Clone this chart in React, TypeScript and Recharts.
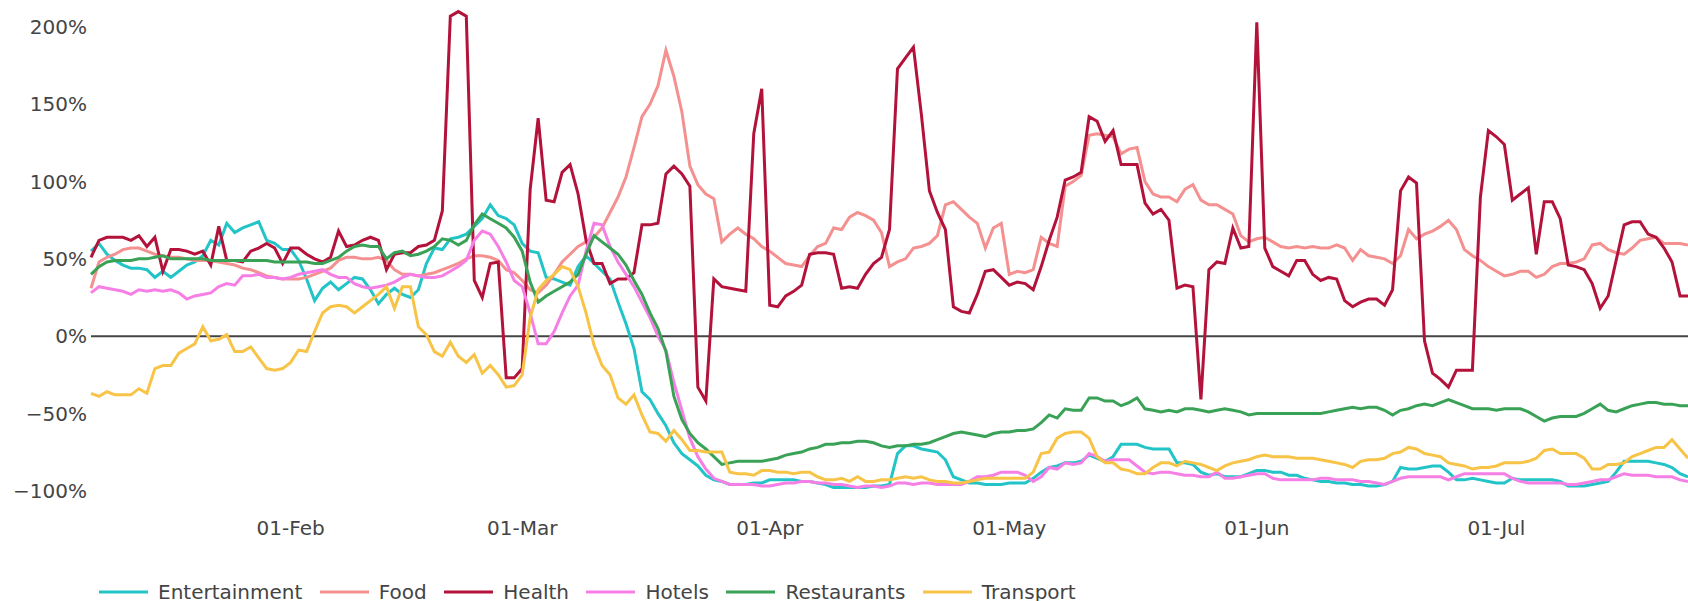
import React from 'react';
import { LineChart, Line, XAxis, YAxis, ReferenceLine, Legend } from 'recharts';

// Daily series, day 0 = 07-Jan-2020 ... day 200 = 25-Jul-2020 (percent change)
const entertainment = [
  55, 60, 53, 49, 46, 44, 44, 43, 38, 42,
  38, 42, 46, 48, 52, 62, 59, 73, 67, 70,
  72, 74, 62, 60, 56, 56, 49, 37, 23, 31,
  35, 30, 34, 38, 37, 30, 21, 27, 31, 27,
  25, 30, 47, 57, 56, 63, 64, 66, 71, 76,
  85, 78, 76, 72, 60, 55, 54, 38, 37, 35,
  33, 45, 52, 47, 42, 37, 22, 8, -8, -36,
  -41, -50, -58, -69, -76, -80, -84, -90, -93, -94,
  -96, -96, -96, -95, -95, -93, -93, -93, -93, -94,
  -94, -95, -96, -98, -98, -98, -98, -98, -97, -97,
  -96, -76, -71, -71, -73, -74, -75, -80, -91, -93,
  -95, -95, -96, -96, -96, -95, -95, -95, -92, -88,
  -85, -84, -82, -82, -81, -77, -79, -81, -78, -70,
  -70, -70, -72, -73, -73, -73, -82, -82, -83, -88,
  -90, -89, -91, -91, -91, -89, -87, -87, -88, -88,
  -90, -90, -92, -93, -94, -94, -95, -95, -96, -96,
  -97, -97, -96, -94, -85, -86, -86, -85, -84, -84,
  -88, -93, -93, -92, -93, -94, -95, -95, -92, -93,
  -93, -93, -93, -93, -94, -97, -97, -97, -96, -95,
  -94, -88, -81, -81, -81, -81, -82, -83, -85, -89, -91,
];

const food = [
  31, 48, 51, 53, 56, 57, 57, 55, 53, 52,
  51, 51, 50, 49, 49, 49, 48, 47, 46, 44,
  43, 41, 39, 38, 37, 37, 37, 38, 40, 42,
  44, 49, 51, 51, 50, 50, 51, 49, 43, 40,
  40, 39, 40, 41, 43, 45, 47, 50, 52, 52,
  51, 49, 43, 41, 36, 30, 28, 33, 40, 48,
  53, 58, 61, 64, 70, 80, 90, 103, 122, 142,
  150, 162, 185, 168, 145, 110, 98, 92, 89, 61,
  66, 70, 66, 63, 58, 55, 51, 47, 46, 45,
  52, 58, 60, 70, 69, 77, 80, 78, 75, 67,
  45, 48, 50, 57, 58, 60, 65, 85, 87, 82,
  77, 73, 57, 70, 73, 40, 42, 41, 43, 64,
  60, 58, 97, 100, 104, 130, 131, 130, 129, 118,
  121, 122, 100, 92, 90, 90, 87, 95, 98, 88,
  85, 85, 82, 79, 65, 61, 63, 64, 61, 58,
  57, 58, 57, 58, 57, 57, 59, 57, 49, 56,
  52, 51, 50, 47, 52, 69, 63, 66, 68, 71,
  75, 69, 56, 52, 49, 45, 42, 39, 40, 42,
  42, 38, 40, 45, 47, 47, 48, 50, 59, 60,
  56, 54, 53, 57, 62, 63, 64, 60, 60, 60, 59,
];

const health = [
  51, 62, 64, 64, 64, 62, 65, 58, 64, 42,
  56, 56, 55, 53, 55, 46, 71, 49, 49, 48,
  55, 57, 60, 57, 47, 57, 57, 53, 50, 48,
  51, 68, 58, 59, 62, 64, 62, 43, 53, 54,
  54, 58, 59, 62, 81, 207, 210, 207, 36, 25,
  47, 48, -27, -27, -21, 95, 141, 88, 87, 106,
  111, 92, 62, 47, 47, 34, 37, 37, 41, 72,
  72, 73, 105, 110, 105, 97, -33, -42, 37, 32,
  31, 30, 29, 131, 160, 20, 19, 26, 29, 33,
  53, 54, 54, 53, 31, 32, 31, 40, 47, 51,
  69, 173, 180, 187, 143, 94, 80, 69, 19, 16,
  15, 27, 42, 43, 38, 33, 35, 34, 30, 45,
  62, 77, 101, 103, 106, 142, 139, 126, 133, 111,
  111, 111, 86, 79, 82, 75, 31, 33, 32, -41,
  43, 48, 47, 70, 57, 58, 203, 57, 45, 42,
  39, 49, 49, 40, 36, 38, 37, 23, 19, 22,
  24, 24, 20, 30, 94, 103, 99, -3, -24, -28,
  -33, -22, -22, -22, 90, 133, 129, 124, 88, 92,
  96, 53, 87, 87, 76, 46, 45, 43, 34, 18,
  26, 49, 72, 74, 74, 66, 64, 57, 48, 26, 26,
];

const hotels = [
  28, 32, 31, 30, 29, 27, 30, 29, 30, 29,
  30, 28, 24, 26, 27, 28, 32, 34, 33, 39,
  39, 40, 38, 38, 37, 38, 40, 41, 42, 43,
  40, 38, 38, 34, 32, 31, 32, 33, 35, 38,
  40, 39, 38, 38, 39, 42, 45, 49, 62, 68,
  66, 58, 48, 36, 32, 15, -5, -5, 3, 15,
  26, 33, 55, 73, 72, 58, 48, 40, 32, 22,
  12, 0, -9, -30, -48, -66, -78, -86, -92, -94,
  -96, -96, -96, -96, -97, -97, -96, -95, -95, -94,
  -94, -95, -95, -96, -96, -97, -98, -97, -97, -98,
  -97, -95, -95, -96, -95, -95, -96, -96, -96, -96,
  -94, -91, -91, -90, -88, -88, -88, -90, -94, -91,
  -85, -86, -82, -83, -82, -76, -78, -81, -80, -80,
  -80, -84, -88, -89, -88, -88, -89, -90, -90, -91,
  -91, -88, -92, -92, -91, -90, -89, -89, -92, -93,
  -93, -93, -93, -93, -92, -92, -93, -93, -93, -94,
  -94, -95, -96, -94, -92, -91, -91, -91, -91, -91,
  -93, -91, -89, -89, -89, -89, -89, -89, -92, -94,
  -95, -95, -95, -95, -95, -96, -96, -95, -94, -93,
  -93, -91, -89, -90, -90, -90, -91, -91, -91, -93, -94,
];

const restaurants = [
  40, 45, 48, 49, 49, 49, 50, 50, 51, 52,
  50, 50, 50, 50, 50, 49, 49, 49, 49, 49,
  49, 49, 49, 48, 48, 48, 48, 48, 47, 47,
  49, 51, 55, 58, 59, 58, 58, 50, 54, 55,
  52, 53, 55, 58, 63, 62, 59, 62, 72, 79,
  76, 73, 70, 64, 55, 35, 22, 26, 29, 32,
  35, 40, 53, 65, 61, 57, 53, 46, 36, 27,
  15, 5, -10, -39, -54, -63, -69, -73, -78, -83,
  -82, -81, -81, -81, -81, -80, -79, -77, -76, -75,
  -73, -72, -70, -70, -69, -69, -68, -68, -69, -71,
  -72, -71, -71, -70, -70, -69, -67, -65, -63, -62,
  -63, -64, -65, -63, -62, -62, -61, -61, -60, -56,
  -51, -53, -47, -48, -48, -40, -40, -42, -42, -45,
  -43, -40, -47, -48, -49, -48, -49, -47, -47, -48,
  -49, -48, -47, -48, -49, -51, -50, -50, -50, -50,
  -50, -50, -50, -50, -50, -49, -48, -47, -46, -47,
  -46, -46, -48, -51, -48, -47, -45, -44, -45, -43,
  -41, -43, -45, -47, -47, -47, -48, -47, -47, -47,
  -49, -52, -55, -53, -52, -52, -52, -50, -47, -44,
  -48, -49, -47, -45, -44, -43, -43, -44, -44, -45, -45,
];

const transport = [
  -37, -39, -36, -38, -38, -38, -34, -37, -21, -19,
  -19, -11, -8, -5, 6, -3, -2, 1, -10, -10,
  -7, -14, -21, -22, -21, -17, -9, -10, 3, 15,
  19, 20, 19, 15, 19, 23, 27, 32, 18, 32,
  32, 6, 1, -10, -13, -4, -13, -17, -12, -24,
  -19, -25, -33, -32, -25, 12, 30, 36, 40, 45,
  43, 32, 15, -6, -19, -25, -40, -44, -38, -51,
  -62, -63, -68, -61, -67, -74, -74, -75, -75, -75,
  -88, -89, -89, -90, -87, -87, -88, -88, -89, -88,
  -88, -91, -93, -93, -92, -94, -91, -94, -94, -93,
  -93, -92, -91, -92, -91, -93, -94, -94, -95, -95,
  -94, -93, -92, -92, -92, -92, -92, -92, -88, -76,
  -75, -66, -63, -62, -62, -66, -78, -82, -82, -86,
  -87, -89, -89, -85, -82, -82, -84, -81, -82, -83,
  -85, -87, -84, -82, -81, -80, -78, -77, -78, -78,
  -78, -79, -79, -79, -80, -81, -82, -83, -85, -81,
  -80, -80, -79, -76, -75, -72, -73, -76, -77, -78,
  -82, -83, -84, -86, -85, -85, -84, -82, -82, -82,
  -81, -79, -74, -73, -76, -76, -76, -79, -86, -86,
  -83, -83, -82, -78, -76, -74, -72, -72, -67, -73, -79,
];

const seriesNames = ['Entertainment', 'Food', 'Health', 'Hotels', 'Restaurants', 'Transport'];
const seriesColors = ['#22c4c8', '#f4908f', '#b3123b', '#f67fe6', '#3aa257', '#f7c447'];
const seriesValues = [entertainment, food, health, hotels, restaurants, transport];

const tickDays = [25, 54, 85, 115, 146, 176];
const tickLabels = ['01-Feb', '01-Mar', '01-Apr', '01-May', '01-Jun', '01-Jul'];
const yTicks = [-100, -50, 0, 50, 100, 150, 200];

const rows = entertainment.map((_, i) => {
  const r: Record<string, number> = { t: i };
  seriesNames.forEach((n, k) => {
    r[n] = seriesValues[k][i];
  });
  return r;
});

const FONT = 'DejaVu Sans, Verdana, sans-serif';
const TEXT = '#444';

const fmtY = (v: number) => (v < 0 ? `\u2212${Math.abs(v)}%` : `${v}%`);
const fmtX = (v: number) => {
  const idx = tickDays.indexOf(v);
  return idx >= 0 ? tickLabels[idx] : '';
};

const LegendContent = () => (
  <div
    style={{
      display: 'flex',
      alignItems: 'center',
      fontFamily: FONT,
      fontSize: 20,
      color: TEXT,
      whiteSpace: 'nowrap',
    }}
  >
    {seriesNames.map((n, i) => (
      <div key={n} style={{ display: 'flex', alignItems: 'center', marginRight: 17.5 }}>
        <svg width={49} height={6} style={{ display: 'block' }}>
          <line x1={0} y1={3} x2={49} y2={3} stroke={seriesColors[i]} strokeWidth={3} />
        </svg>
        <span style={{ marginLeft: 10 }}>{n}</span>
      </div>
    ))}
  </div>
);

export default function App() {
  return (
    <div style={{ position: 'absolute', left: 0, top: 0, width: 1688, height: 601, background: '#fff' }}>
      <LineChart width={1688} height={601} data={rows} margin={{ top: 0, right: 0, left: 0, bottom: 0 }}>
        <XAxis
          dataKey="t"
          type="number"
          domain={[0, 200]}
          ticks={tickDays}
          interval={0}
          tickFormatter={fmtX}
          axisLine={false}
          tickLine={false}
          tickSize={0}
          tickMargin={11}
          height={91}
          tick={{ fontFamily: FONT, fontSize: 20, fill: TEXT }}
        />
        <YAxis
          type="number"
          domain={[-112.5, 217.5]}
          ticks={yTicks}
          interval={0}
          tickFormatter={fmtY}
          axisLine={false}
          tickLine={false}
          tickSize={0}
          tickMargin={4}
          width={91}
          tick={{ fontFamily: FONT, fontSize: 20, fill: TEXT }}
        />
        <ReferenceLine y={0} stroke="#444" strokeWidth={2} />
        {seriesNames.map((n, i) => (
          <Line
            key={n}
            type="linear"
            dataKey={n}
            stroke={seriesColors[i]}
            strokeWidth={3}
            dot={false}
            activeDot={false}
            isAnimationActive={false}
          />
        ))}
        <Legend
          layout="horizontal"
          verticalAlign="middle"
          align="center"
          content={<LegendContent />}
          wrapperStyle={{ position: 'absolute', left: 99, top: 580, width: 1400 }}
        />
      </LineChart>
    </div>
  );
}
